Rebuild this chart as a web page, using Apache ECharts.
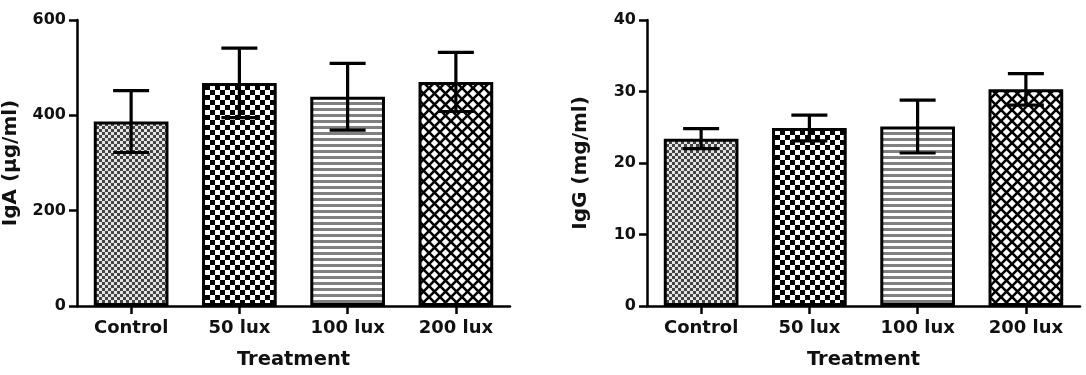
<!DOCTYPE html>
<html>
<head>
<meta charset="utf-8">
<script src="https://cdn.jsdelivr.net/npm/echarts@6/dist/echarts.min.js"></script>
<style>
html,body{margin:0;padding:0;background:#fff;}
#chart{width:1086px;height:375px;}
</style>
</head>
<body>
<div id="chart"></div>
<script>
// ---- data ----
const categories = ['Control', '50 lux', '100 lux', '200 lux'];
const igaMean = [387, 468, 439, 470];
const igaErr = [65, 73, 70, 62];
const iggMean = [23.4, 24.9, 25.1, 30.3];
const iggErr = [1.4, 1.8, 3.7, 2.2];
const igaTicks = [0, 200, 400, 600];
const iggTicks = [0, 10, 20, 30, 40];

// ---- patterns ----
function tile(w, h, draw) {
  const c = document.createElement('canvas');
  c.width = w; c.height = h;
  const ctx = c.getContext('2d');
  ctx.fillStyle = '#fff'; ctx.fillRect(0, 0, w, h);
  draw(ctx, w, h);
  return { image: c, repeat: 'repeat' };
}
function checker(s, dark, light) {
  return tile(2 * s, 2 * s, (ctx) => {
    ctx.fillStyle = light; ctx.fillRect(0, 0, 2 * s, 2 * s);
    ctx.fillStyle = dark;
    ctx.fillRect(0, 0, s, s); ctx.fillRect(s, s, s, s);
  });
}
function stripes() {
  return tile(6, 6, (ctx) => { ctx.fillStyle = '#808080'; ctx.fillRect(0, 0, 6, 3); });
}
function crosshatch() {
  const P = 11;
  return tile(P, P, (ctx, w, h) => {
    ctx.strokeStyle = '#000'; ctx.lineWidth = 2.6;
    for (let k = -1; k <= 1; k++) {
      ctx.beginPath(); ctx.moveTo(k * P, 0); ctx.lineTo(k * P + P, P); ctx.stroke();
      ctx.beginPath(); ctx.moveTo(k * P + P, 0); ctx.lineTo(k * P, P); ctx.stroke();
    }
  });
}
const patterns = [checker(3, '#444', '#e4e4e4'), checker(5, '#000', '#fff'), stripes(), crosshatch()];

const FONT = '"DejaVu Sans", sans-serif';
const axisLine = { show: true, lineStyle: { color: '#000', width: 2.5 } };
const axisTick = { show: true, length: 8, lineStyle: { color: '#000', width: 2.5 } };

function xAxis(gi) {
  return {
    type: 'category', gridIndex: gi, data: categories,
    axisLine: axisLine, axisTick: Object.assign({ alignWithLabel: true }, axisTick),
    axisLabel: { color: '#111', fontFamily: FONT, fontWeight: 'bold', fontSize: 18, margin: 13 },
    name: 'Treatment', nameLocation: 'middle', nameGap: 44,
    nameTextStyle: { color: '#111', fontFamily: FONT, fontWeight: 'bold', fontSize: 19.5 },
    splitLine: { show: false }
  };
}
function yAxis(gi, ticks, name) {
  return {
    type: 'value', gridIndex: gi, min: ticks[0], max: ticks[ticks.length - 1],
    interval: ticks[1] - ticks[0],
    axisLine: axisLine, axisTick: axisTick,
    axisLabel: { color: '#111', fontFamily: FONT, fontWeight: 'bold', fontSize: 16, margin: 11 },
    splitLine: { show: false },
    name: name, nameLocation: 'middle', nameGap: 56, nameRotate: 90,
    nameTextStyle: { color: '#111', fontFamily: FONT, fontWeight: 'bold', fontSize: 20 }
  };
}
function barSeries(gi, means) {
  return {
    type: 'bar', xAxisIndex: gi, yAxisIndex: gi, barWidth: '69%',
    data: means.map((v, i) => ({ value: v, itemStyle: { color: patterns[i] } })),
    itemStyle: { borderColor: '#000', borderWidth: 3 },
    emphasis: { disabled: true }, animation: false
  };
}
function errSeries(gi, means, errs) {
  return {
    type: 'custom', xAxisIndex: gi, yAxisIndex: gi, z: 5,
    data: means.map((v, i) => [i, v - errs[i], v + errs[i]]),
    renderItem: function (params, api) {
      const lo = api.coord([api.value(0), api.value(1)]);
      const hi = api.coord([api.value(0), api.value(2)]);
      const hw = 18;
      const st = { stroke: '#000', lineWidth: 3.2 };
      return {
        type: 'group', children: [
          { type: 'line', shape: { x1: hi[0], y1: hi[1], x2: lo[0], y2: lo[1] }, style: st },
          { type: 'line', shape: { x1: hi[0] - hw, y1: hi[1], x2: hi[0] + hw, y2: hi[1] }, style: st },
          { type: 'line', shape: { x1: lo[0] - hw, y1: lo[1], x2: lo[0] + hw, y2: lo[1] }, style: st }
        ]
      };
    },
    animation: false
  };
}

const chart = echarts.init(document.getElementById('chart'), null, { renderer: 'canvas' });
chart.setOption({
  backgroundColor: '#fff',
  animation: false,
  grid: [
    { left: 77, width: 433, top: 20, bottom: 68 },
    { left: 647, width: 433, top: 20, bottom: 68 }
  ],
  xAxis: [xAxis(0), xAxis(1)],
  yAxis: [yAxis(0, igaTicks, 'IgA (μg/ml)'), yAxis(1, iggTicks, 'IgG (mg/ml)')],
  series: [
    barSeries(0, igaMean), errSeries(0, igaMean, igaErr),
    barSeries(1, iggMean), errSeries(1, iggMean, iggErr)
  ]
});
</script>
</body>
</html>
